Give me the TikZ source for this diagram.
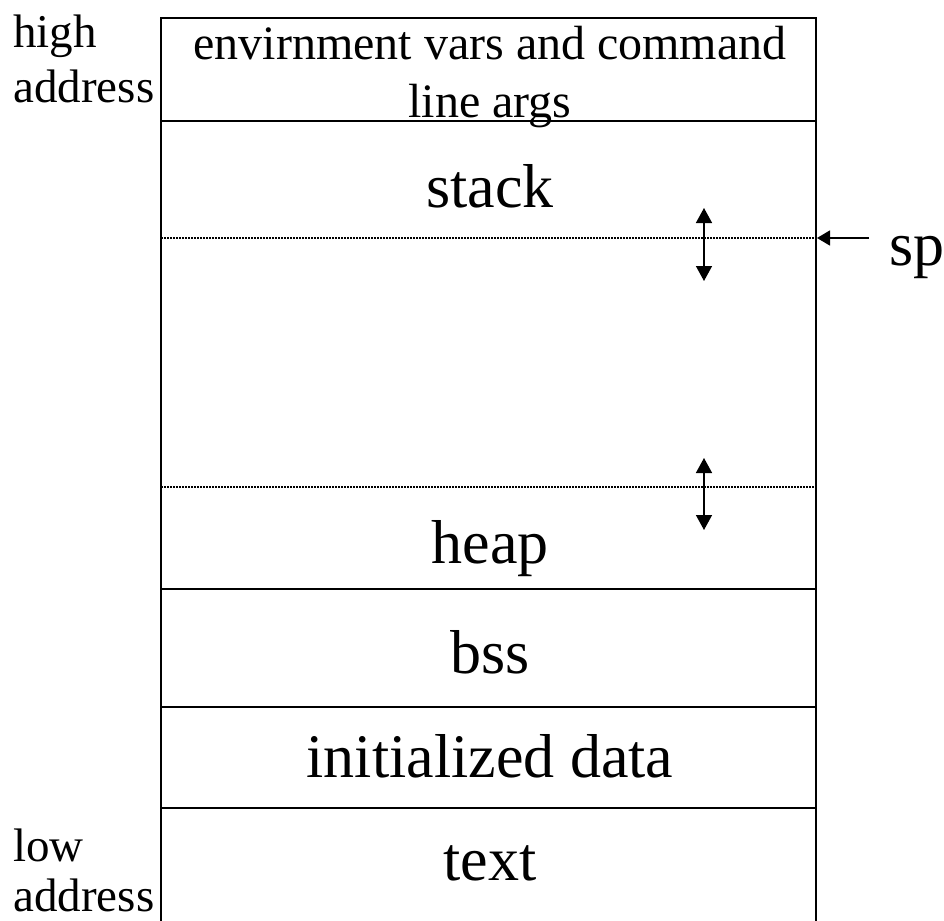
\documentclass[tikz,border=0pt]{standalone}
\usepackage{fontspec}
\setmainfont{Liberation Serif}
\usetikzlibrary{arrows.meta}
\tikzset{
  frame/.style={line width=1pt},
  guide/.style={line width=0.6pt, dash pattern=on 0.75pt off 0.75pt},
  bigtext/.style={font=\fontsize{31}{36}\selectfont, anchor=base, inner sep=0pt},
  smalltext/.style={font=\fontsize{24}{28}\selectfont, anchor=base, inner sep=0pt},
  sidetext/.style={font=\fontsize{23.5}{28}\selectfont, anchor=base west, inner sep=0pt},
  growth/.style={line width=0.75pt, {Triangle[width=8pt,length=7.5pt]}-{Triangle[width=8pt,length=7.5pt]}},
  pointer/.style={line width=0.75pt, -{Triangle[width=7.5pt,length=6.5pt]}}
}
\begin{document}
\begin{tikzpicture}[x=0.5pt, y=-0.5pt]
\useasboundingbox (0,0) rectangle (944,921);

% outer frame (open at the bottom edge of the page)
\draw[frame] (161,930) -- (161,18) -- (816,18) -- (816,930);
% segment boundaries
\draw[frame] (161,121) -- (816,121);
\draw[frame] (161,589) -- (816,589);
\draw[frame] (161,707) -- (816,707);
\draw[frame] (161,808) -- (816,808);
% current stack top and heap break
\draw[guide] (161,238) -- (816,238);
\draw[guide] (161,487) -- (816,487);

% segment labels
\node[smalltext] (env1) at (490,60) {envirnment vars and command};
\node[smalltext] (env2) at (490,117) {line args};
\node[bigtext] (stack) at (490,207) {stack};
\node[bigtext] (heap) at (490,563) {heap};
\node[bigtext] (bss) at (490,673) {bss};
\node[bigtext] (idata) at (490,777) {initialized data};
\node[bigtext] (txt) at (490,880) {text};

% address labels
\node[sidetext] (high) at (13,47) {high};
\node[sidetext] (highaddr) at (13,102) {address};
\node[sidetext] (low) at (13,861) {low};
\node[sidetext] (lowaddr) at (13,911) {address};

% growth arrows
\coordinate (stacktop) at (704,208);
\coordinate (stackbot) at (704,281);
\coordinate (heaptop) at (704,458);
\coordinate (heapbot) at (704,530);
\draw[growth] (stacktop) -- (stackbot);
\draw[growth] (heaptop) -- (heapbot);

% stack pointer
\node[font=\fontsize{31}{36}\selectfont, anchor=base west, inner sep=0pt] (sp) at (889,265) {sp};
\coordinate (sptail) at (869,238);
\coordinate (sphead) at (817,238);
\draw[pointer] (sptail) -- (sphead);
\end{tikzpicture}
\end{document}
